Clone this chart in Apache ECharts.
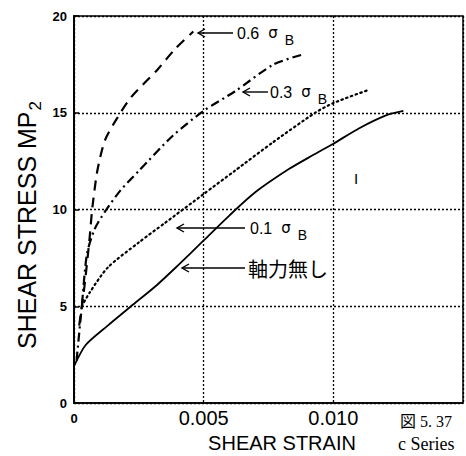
<!DOCTYPE html>
<html><head><meta charset="utf-8">
<script src="https://cdn.jsdelivr.net/npm/echarts@6/dist/echarts.min.js"></script>
<style>html,body{margin:0;padding:0;background:#fff}#c{width:466px;height:456px}</style>
</head><body><div id="c"></div>
<script>
// Tick labels
const xTickLabels = ['0', '0.005', '0.010'];
const yTickLabels = ['0', '5', '10', '15', '20'];

// 軸力無し (solid)
const noAxialStrain = [0, 0.00045, 0.0013, 0.0022, 0.0032, 0.0040, 0.0050, 0.0060, 0.0070, 0.0083, 0.0092, 0.0100, 0.0110, 0.0121, 0.0127];
const noAxialStress = [1.9, 3.0, 4.0, 5.0, 6.1, 7.1, 8.4, 9.7, 10.9, 12.1, 12.8, 13.4, 14.2, 14.9, 15.1];
// 0.1 σB (dotted)
const p01Strain = [0.0003, 0.0006, 0.0013, 0.0025, 0.0035, 0.0050, 0.0062, 0.0077, 0.0093, 0.0100, 0.0114];
const p01Stress = [5.0, 5.7, 7.0, 8.3, 9.3, 10.8, 12.0, 13.5, 15.0, 15.5, 16.2];
// 0.3 σB (dash-dot)
const p03Strain = [0.0001, 0.0003, 0.0005, 0.0008, 0.0012, 0.0018, 0.0025, 0.0038, 0.0050, 0.0062, 0.0077, 0.0088];
const p03Stress = [2.2, 5.0, 7.7, 9.0, 9.9, 11.0, 12.0, 13.8, 15.1, 16.1, 17.5, 18.0];
// 0.6 σB (dashed)
const p06Strain = [0.0002, 0.0004, 0.0006, 0.0007, 0.0009, 0.0012, 0.0017, 0.0022, 0.0032, 0.0039, 0.0046];
const p06Stress = [4.0, 6.0, 8.5, 10.0, 12.0, 13.6, 14.8, 15.8, 17.2, 18.3, 19.2];

const zip = (a, b) => a.map((v, i) => [v, b[i]]);

const chart = echarts.init(document.getElementById('c'), null, {renderer: 'svg'});

const sans = "'Liberation Sans', Arial, sans-serif";
const arrow = (x1, x2, y) => ({
  type: 'group', children: [
    {type: 'line', shape: {x1: x1, y1: y, x2: x2, y2: y}, style: {stroke: '#000', lineWidth: 1.4}},
    {type: 'polyline', shape: {points: [[x1 + 7, y - 4], [x1, y], [x1 + 7, y + 4]]}, style: {stroke: '#000', lineWidth: 1.4, fill: null}}
  ]
});
const sigmaRich = {
  g: {fontFamily: "'DejaVu Sans', sans-serif", fontSize: 15, padding: [0, 0, 0, 9]},
  s: {fontFamily: sans, fontSize: 14, padding: [14, 0, 0, 7]}
};
const label = (x, y, t) => ({
  type: 'text', x: x, y: y,
  style: {text: t, fontFamily: sans, fontSize: 16, fill: '#000', textVerticalAlign: 'middle', rich: sigmaRich}
});
const lineSeries = (name, xs, ys, ls) => ({
  name: name, type: 'line', data: zip(xs, ys), showSymbol: false,
  smooth: 0.25, lineStyle: Object.assign({color: '#000'}, ls)
});

chart.setOption({
  animation: false,
  backgroundColor: '#fff',
  grid: {left: 74, right: -12, top: 16, bottom: 53, show: true, borderColor: '#000', borderWidth: 1.5},
  xAxis: {
    type: 'value', min: 0, max: 0.015, interval: 0.005,
    axisLine: {show: true, lineStyle: {color: '#000', width: 1.5}},
    axisTick: {show: false},
    splitLine: {show: true, lineStyle: {color: '#000', type: [2, 2], width: 1.3}},
    axisLabel: {
      margin: 5, color: '#000',
      formatter: v => {
        const i = Math.round(v / 0.005);
        const t = xTickLabels[i];
        if (t === undefined) return '';
        return i === 0 ? '{b|' + t + '}' : '{n|' + t + '}';
      },
      rich: {
        b: {fontFamily: sans, fontWeight: 'bold', fontSize: 13, padding: [4, 0, 0, 0]},
        n: {fontFamily: sans, fontSize: 20}
      }
    }
  },
  yAxis: {
    type: 'value', min: 0, max: 20, interval: 5,
    axisLine: {show: true, lineStyle: {color: '#000', width: 2}},
    axisTick: {show: true, inside: true, length: 5, lineStyle: {color: '#000', width: 1.5}},
    splitLine: {show: true, lineStyle: {color: '#000', type: [2, 2], width: 1.3}},
    axisLabel: {
      margin: 7, color: '#000', fontFamily: sans, fontWeight: 'bold', fontSize: 13,
      formatter: v => yTickLabels[Math.round(v / 5)]
    }
  },
  series: [
    lineSeries('軸力無し', noAxialStrain, noAxialStress, {width: 1.8, type: 'solid'}),
    lineSeries('0.1σB', p01Strain, p01Stress, {width: 2.2, type: [1.5, 3.5], cap: 'round'}),
    lineSeries('0.3σB', p03Strain, p03Stress, {width: 2.2, type: [9, 4, 2, 4]}),
    lineSeries('0.6σB', p06Strain, p06Stress, {width: 2.2, type: [10, 7]})
  ],
  graphic: [
    arrow(198, 233, 33), label(237, 33, '0.6{g|σ}{s|B}'),
    arrow(243, 268, 92), label(270, 92, '0.3{g|σ}{s|B}'),
    arrow(177, 245, 228), label(250, 228, '0.1{g|σ}{s|B}'),
    arrow(182, 245, 268),
    {type: 'text', x: 248, y: 268, style: {text: '軸力無し', fontFamily: "'Noto Sans CJK JP', sans-serif", fontSize: 20, fill: '#000', textVerticalAlign: 'middle'}},
    {type: 'text', x: 356, y: 178, style: {text: 'I', fontFamily: sans, fontSize: 15, fill: '#000', textAlign: 'center', textVerticalAlign: 'middle'}},
    {type: 'text', x: 27, y: 225, rotation: Math.PI / 2,
     style: {text: 'SHEAR STRESS MP{s|2}', fontFamily: sans, fontSize: 25, fill: '#000', textAlign: 'center', textVerticalAlign: 'middle',
       rich: {s: {fontFamily: sans, fontSize: 17, padding: [16, 0, 0, 1]}}}},
    {type: 'text', x: 282, y: 443, style: {text: 'SHEAR STRAIN', fontFamily: sans, fontSize: 20, fill: '#000', textAlign: 'center', textVerticalAlign: 'middle'}},
    {type: 'text', x: 400, y: 421, style: {text: '図 5. 37', fontFamily: "'Liberation Serif', 'Noto Sans CJK JP', serif", fontSize: 16, fill: '#000', textVerticalAlign: 'middle'}},
    {type: 'text', x: 398, y: 444, style: {text: 'c Series', fontFamily: "'Liberation Serif', serif", fontSize: 18, fill: '#000', textVerticalAlign: 'middle'}}
  ]
});
</script></body></html>
